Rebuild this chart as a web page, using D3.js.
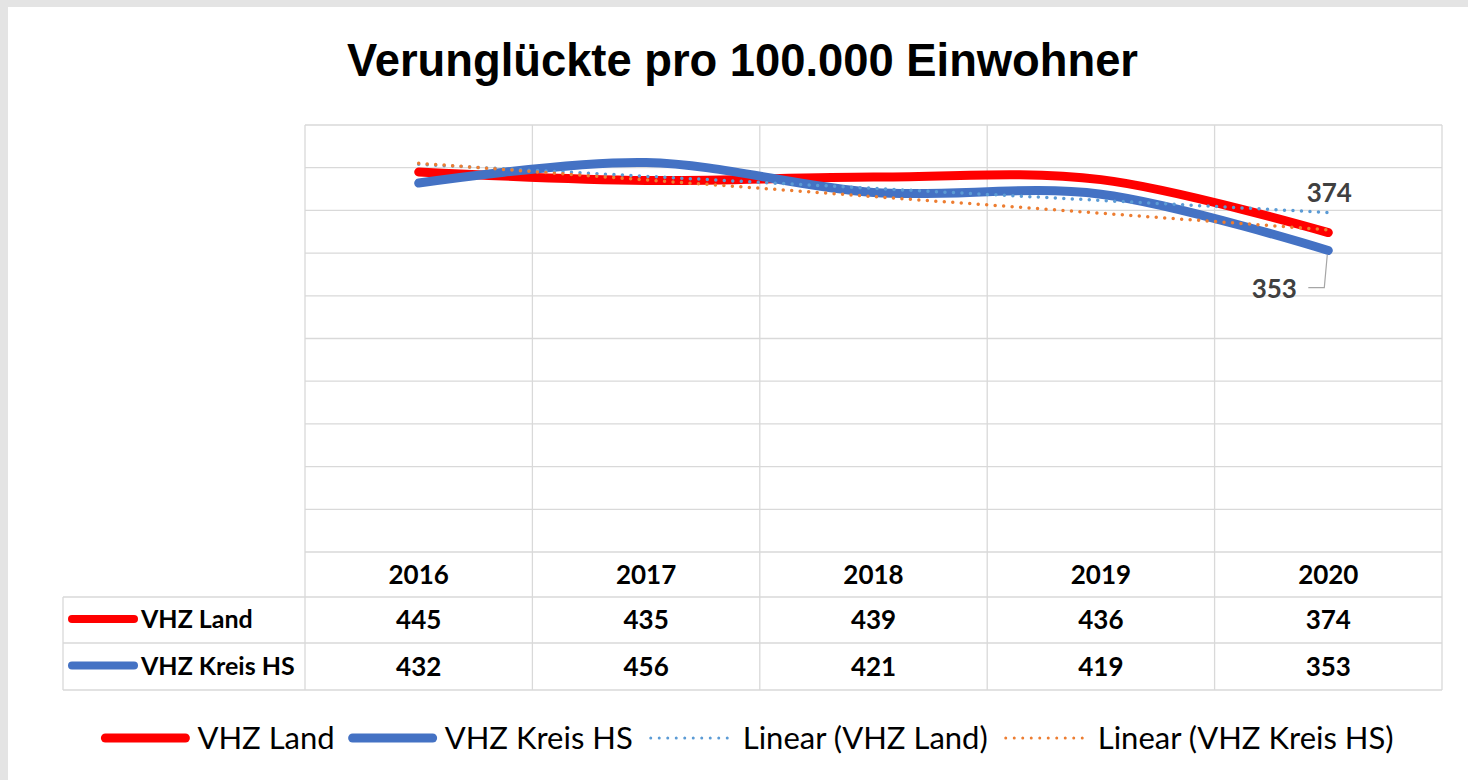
<!DOCTYPE html>
<html><head><meta charset="utf-8">
<script src="https://cdn.jsdelivr.net/npm/d3@7"></script>
<style>html,body{margin:0;padding:0;background:#e4e4e4;}svg{display:block;}</style>
</head><body>
<svg id="chart" width="1468" height="780"></svg>
<script>
const title = "Verunglückte pro 100.000 Einwohner";
const years = ["2016", "2017", "2018", "2019", "2020"];
const seriesNames = ["VHZ Land", "VHZ Kreis HS"];
const landValues = [445, 435, 439, 436, 374];
const kreisValues = [432, 456, 421, 419, 353];
const yTicks = [0, 50, 100, 150, 200, 250, 300, 350, 400, 450, 500];
const trendNames = ["Linear (VHZ Land)", "Linear (VHZ Kreis HS)"];

const colors = { land: "#ff0000", kreis: "#4472c4", trendLand: "#5b9bd5", trendKreis: "#ed7d31" };
const svg = d3.select("#chart");
const tableFont = "Lato, 'Open Sans', sans-serif";

svg.append("rect").attr("x", 8).attr("y", 7).attr("width", 1460).attr("height", 780).attr("fill", "#fff");

const plotL = 305, plotR = 1442, plotT = 125, plotB = 552;
const rowY = [552, 597, 643, 690];
const tableL = 63;

const x = d3.scaleBand().domain(years).range([plotL, plotR]).padding(0);
const cx = d => x(d) + x.bandwidth() / 2;
const y = d3.scaleLinear().domain([0, 500]).range([plotB, plotT]);

// title
svg.append("text").attr("x", 742.5).attr("y", 76).attr("text-anchor", "middle")
  .attr("font-family", "'Liberation Sans', Arial, sans-serif").attr("font-weight", "bold")
  .attr("font-size", 47).attr("fill", "#000")
  .attr("textLength", 791).attr("lengthAdjust", "spacingAndGlyphs").text(title);

const grid = svg.append("g").attr("stroke", "#d9d9d9").attr("stroke-width", 1.3);
grid.selectAll("line.h").data(yTicks).join("line")
  .attr("x1", plotL).attr("x2", plotR).attr("y1", d => y(d)).attr("y2", d => y(d));
const bounds = years.map(d => x(d)).concat([plotR]);
grid.selectAll("line.v").data(bounds).join("line")
  .attr("x1", d => d).attr("x2", d => d).attr("y1", plotT).attr("y2", rowY[3]);
grid.selectAll("line.r").data(rowY.slice(1)).join("line")
  .attr("x1", tableL).attr("x2", plotR).attr("y1", d => d).attr("y2", d => d);
grid.append("line").attr("x1", tableL).attr("x2", tableL).attr("y1", rowY[1]).attr("y2", rowY[3]);

// table
const numSize = 26;
const tbl = svg.append("g").attr("font-family", tableFont).attr("font-weight", "bold")
  .attr("font-size", numSize).attr("fill", "#000").attr("text-anchor", "middle");
tbl.selectAll("text.hd").data(years).join("text")
  .attr("x", d => cx(d)).attr("y", (rowY[0] + rowY[1]) / 2 + 9).text(d => d);
const rows = [landValues, kreisValues];
rows.forEach((vals, i) => {
  const yc = (rowY[i + 1] + rowY[i + 2]) / 2 + 9;
  tbl.selectAll("text.r" + i).data(vals).join("text")
    .attr("x", (d, j) => cx(years[j])).attr("y", yc).text(d => d);
});
const keyCols = [colors.land, colors.kreis];
seriesNames.forEach((n, i) => {
  const yc = (rowY[i + 1] + rowY[i + 2]) / 2;
  svg.append("line").attr("x1", 72).attr("x2", 134).attr("y1", yc - 1).attr("y2", yc - 1)
    .attr("stroke", keyCols[i]).attr("stroke-width", 8).attr("stroke-linecap", "round");
  svg.append("text").attr("x", 141).attr("y", yc + 8).attr("font-family", tableFont)
    .attr("font-weight", "bold").attr("font-size", 25).attr("fill", "#000").text(n);
});

// lines
const line = d3.line().x((d, i) => cx(years[i])).y(d => y(d)).curve(d3.curveCardinal.tension(0));
svg.append("path").datum(landValues).attr("d", line).attr("fill", "none")
  .attr("stroke", colors.land).attr("stroke-width", 9).attr("stroke-linecap", "round").attr("stroke-linejoin", "round");
svg.append("path").datum(kreisValues).attr("d", line).attr("fill", "none")
  .attr("stroke", colors.kreis).attr("stroke-width", 9).attr("stroke-linecap", "round").attr("stroke-linejoin", "round");

// linear trendlines (least squares over category index)
function linreg(vals) {
  const n = vals.length, xs = vals.map((_, i) => i);
  const mx = d3.mean(xs), my = d3.mean(vals);
  const b = d3.sum(xs, (xi, i) => (xi - mx) * (vals[i] - my)) / d3.sum(xs, xi => (xi - mx) ** 2);
  const a = my - b * mx;
  return [a, a + b * (n - 1)];
}
[[landValues, colors.trendLand], [kreisValues, colors.trendKreis]].forEach(([vals, c]) => {
  const [y0, y1] = linreg(vals);
  svg.append("line").attr("x1", cx(years[0])).attr("x2", cx(years[years.length - 1]))
    .attr("y1", y(y0)).attr("y2", y(y1)).attr("stroke", c).attr("stroke-width", 3.5)
    .attr("stroke-dasharray", "0,8.5").attr("stroke-linecap", "round");
});

// data labels for last points
const last = years.length - 1;
const lblColor = "#404040";
svg.append("text").attr("x", cx(years[last]) + 1).attr("y", y(landValues[last]) - 31)
  .attr("text-anchor", "middle").attr("font-family", tableFont).attr("font-weight", "bold")
  .attr("font-size", numSize).attr("fill", lblColor).text(landValues[last]);
const px = cx(years[last]), py = y(kreisValues[last]);
svg.append("polyline").attr("points", `${px - 20},${py + 37} ${px - 4},${py + 37} ${px - 1},${py + 4}`)
  .attr("fill", "none").attr("stroke", "#a6a6a6").attr("stroke-width", 1.2);
svg.append("text").attr("x", px - 54).attr("y", py + 47)
  .attr("text-anchor", "middle").attr("font-family", tableFont).attr("font-weight", "bold")
  .attr("font-size", numSize).attr("fill", lblColor).text(kreisValues[last]);

// bottom legend
const legItems = [
  { name: seriesNames[0], color: colors.land, dotted: false },
  { name: seriesNames[1], color: colors.kreis, dotted: false },
  { name: trendNames[0], color: colors.trendLand, dotted: true },
  { name: trendNames[1], color: colors.trendKreis, dotted: true }
];
const leg = svg.append("g");
const legSize = 31;
const keyW = 88, gapKT = 8, gapItem = 14, legY = 738;
let widths = [];
legItems.forEach(it => {
  const t = leg.append("text").attr("font-family", tableFont).attr("font-size", legSize).text(it.name);
  widths.push(t.node().getComputedTextLength());
  t.remove();
});
const total = d3.sum(widths) + legItems.length * (keyW + gapKT) + (legItems.length - 1) * gapItem;
let cur = 747.5 - total / 2;
legItems.forEach((it, i) => {
  leg.append("line").attr("x1", cur + 4).attr("x2", cur + keyW - 4).attr("y1", legY).attr("y2", legY)
    .attr("stroke", it.color).attr("stroke-width", it.dotted ? 3 : 9).attr("stroke-linecap", "round")
    .attr("stroke-dasharray", it.dotted ? "0,8.5" : null);
  leg.append("text").attr("x", cur + keyW + gapKT).attr("y", legY + 11).attr("font-family", tableFont)
    .attr("font-size", legSize).attr("fill", "#000").text(it.name);
  cur += keyW + gapKT + widths[i] + gapItem;
});
</script>
</body></html>
